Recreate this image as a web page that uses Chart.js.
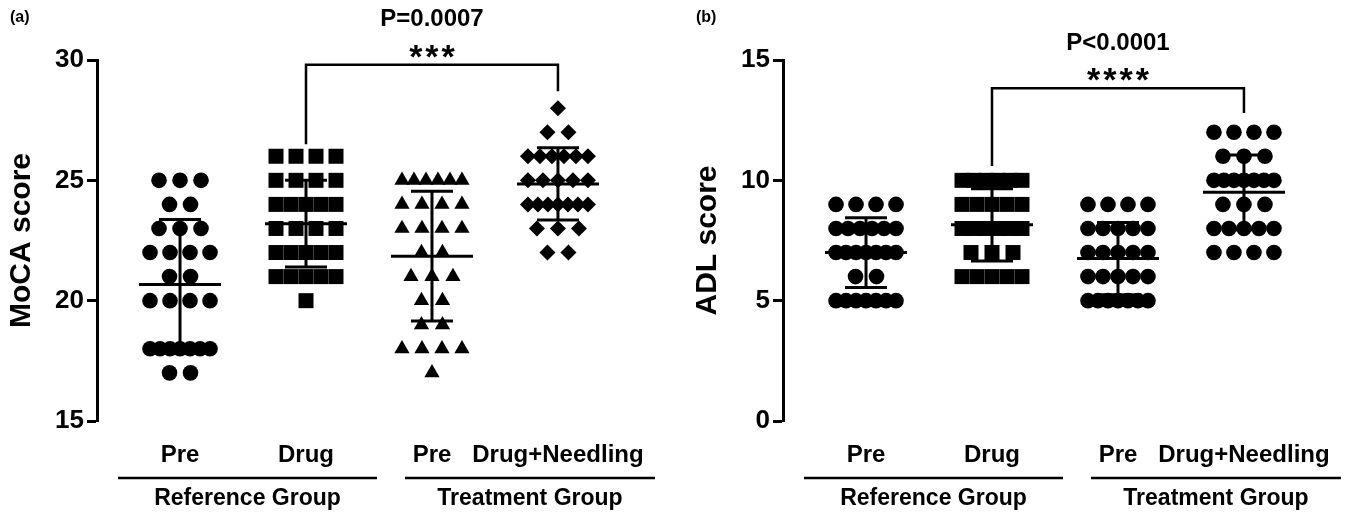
<!DOCTYPE html>
<html>
<head>
<meta charset="utf-8">
<script src="https://cdn.jsdelivr.net/npm/chart.js@4/dist/chart.umd.min.js"></script>
<style>
html, body { margin: 0; padding: 0; background: #fff; overflow: hidden; }
#wrap { position: relative; width: 1357px; height: 513px; }
.panel { position: absolute; top: 0; height: 513px; }
</style>
</head>
<body>
<div id="wrap">
    <div class="panel" style="left:0;width:680px"><canvas id="mocaChart"></canvas></div>
    <div class="panel" style="left:686px;width:671px"><canvas id="adlChart"></canvas></div>
</div>
<script>
const groups = ['Pre', 'Drug', 'Pre', 'Drug+Needling'];
const groupNames = ['Reference Group', 'Treatment Group'];
const mocaMarkers = ['circle', 'rect', 'triangle', 'rectRot'];
const adlMarkers = ['circle', 'rect', 'circle', 'circle'];

// (a) MoCA scores
const mocaPre = [25, 25, 25, 24, 24, 23, 23, 23, 22, 22, 22, 22, 21, 21, 20, 20, 20, 20, 18, 18, 18, 18, 18, 18, 18, 17, 17];
const mocaDrug = [26, 26, 26, 26, 25, 25, 25, 25, 24, 24, 24, 24, 24, 23, 23, 23, 23, 22, 22, 22, 22, 22, 21, 21, 21, 21, 21, 20];
const mocaTreatPre = [25, 25, 25, 25, 25, 25, 24, 24, 24, 24, 23, 23, 23, 23, 22, 22, 21, 21, 21, 20, 20, 19, 19, 18, 18, 18, 18, 17];
const mocaNeedling = [28, 27, 27, 26, 26, 26, 26, 26, 26, 25, 25, 25, 25, 25, 24, 24, 24, 24, 24, 24, 24, 23, 23, 23, 22, 22];
const mocaMean = [20.67, 23.2, 21.85, 24.85];
const mocaSD = [2.7, 1.8, 2.7, 1.5];
const mocaTicks = [15, 20, 25, 30];

// (b) ADL scores
const adlPre = [9, 9, 9, 9, 8, 8, 8, 8, 8, 8, 7, 7, 7, 7, 7, 7, 7, 6, 6, 5, 5, 5, 5, 5, 5, 5];
const adlDrug = [10, 10, 10, 10, 10, 10, 9, 9, 9, 9, 9, 8, 8, 8, 8, 8, 8, 7, 7, 7, 6, 6, 6, 6, 6];
const adlTreatPre = [9, 9, 9, 9, 8, 8, 8, 8, 8, 7, 7, 7, 7, 7, 6, 6, 6, 6, 6, 5, 5, 5, 5, 5, 5, 5];
const adlNeedling = [12, 12, 12, 12, 11, 11, 11, 10, 10, 10, 10, 10, 10, 10, 9, 9, 9, 8, 8, 8, 8, 8, 7, 7, 7, 7];
const adlMean = [7.0, 8.15, 6.75, 9.5];
const adlSD = [1.45, 1.5, 1.5, 1.55];
const adlTicks = [0, 5, 10, 15];

const FONT = '"Liberation Sans", Arial, sans-serif';
const PX_PER_UNIT = 126;
const RADIUS = { circle: 7.8, rect: 10.6, triangle: 8.8, rectRot: 8 };

// spread equal values sideways like a dot plot
function swarm(values, center) {
    const counts = {};
    values.forEach(v => counts[v] = (counts[v] || 0) + 1);
    const seen = {};
    return values.map(v => {
        const n = counts[v];
        seen[v] = (seen[v] === undefined ? -1 : seen[v]) + 1;
        const gap = n > 1 ? Math.min(21, 60 / (n - 1)) : 0;
        return { x: center + (seen[v] - (n - 1) / 2) * gap / PX_PER_UNIT, y: v };
    });
}

const overlay = {
    id: 'overlay',
    afterDatasetsDraw(chart, args, opts) {
        const { ctx, scales: { x, y }, chartArea } = chart;
        const seg = (x1, y1, x2, y2) => { ctx.beginPath(); ctx.moveTo(x1, y1); ctx.lineTo(x2, y2); ctx.stroke(); };
        ctx.save();
        ctx.strokeStyle = '#000';
        ctx.fillStyle = '#000';
        ctx.lineCap = 'butt';

        // mean and SD
        ctx.lineWidth = 3;
        opts.mean.forEach((m, i) => {
            const cx = x.getPixelForValue(i + 1);
            const ym = y.getPixelForValue(m);
            const yt = y.getPixelForValue(m + opts.sd[i]);
            const yb = y.getPixelForValue(m - opts.sd[i]);
            seg(cx - 41, ym, cx + 41, ym);
            seg(cx - 21, yt, cx + 21, yt);
            seg(cx - 21, yb, cx + 21, yb);
            seg(cx, yt, cx, yb);
        });

        // significance bracket
        const b = opts.bracket;
        const x1 = x.getPixelForValue(2), x2 = x.getPixelForValue(4);
        const yTop = y.getPixelForValue(b.top);
        ctx.lineWidth = 2.5;
        ctx.beginPath();
        ctx.moveTo(x1, y.getPixelForValue(b.left));
        ctx.lineTo(x1, yTop);
        ctx.lineTo(x2, yTop);
        ctx.lineTo(x2, y.getPixelForValue(b.right));
        ctx.stroke();
        ctx.textAlign = 'center';
        ctx.textBaseline = 'alphabetic';
        ctx.font = 'bold 34px ' + FONT;
        ctx.letterSpacing = '3px';
        ctx.fillText(b.stars, (x1 + x2) / 2 + 1.5, yTop + 3);
        ctx.letterSpacing = '0px';
        ctx.textBaseline = 'middle';
        ctx.font = 'bold 24px ' + FONT;
        ctx.fillText(b.p, (x1 + x2) / 2, yTop - 45);

        // category labels and group underlines
        const base = chartArea.bottom;
        ctx.font = 'bold 24px ' + FONT;
        groups.forEach((g, i) => ctx.fillText(g, x.getPixelForValue(i + 1), base + 34));
        ctx.lineWidth = 2.5;
        const c1 = x.getPixelForValue(1), c2 = x.getPixelForValue(2);
        const c3 = x.getPixelForValue(3), c4 = x.getPixelForValue(4);
        seg(c1 - 62, base + 57, c2 + 71, base + 57);
        seg(c3 - 27, base + 57, c4 + 97, base + 57);
        ctx.font = 'bold 23px ' + FONT;
        ctx.fillText(groupNames[0], (c1 - 62 + c2 + 71) / 2, base + 78);
        ctx.fillText(groupNames[1], (c3 - 27 + c4 + 97) / 2, base + 78);

        // panel letter
        ctx.textAlign = 'left';
        ctx.font = 'bold 16px ' + FONT;
        ctx.fillText(opts.letter, 10, 18);
        ctx.restore();
    }
};

function makeChart(id, series, markers, mean, sd, ticks, title, bracket, letter, padRight) {
    const datasets = series.map((vals, i) => ({
        data: swarm(vals, i + 1),
        pointStyle: markers[i],
        pointRadius: RADIUS[markers[i]],
        backgroundColor: '#000',
        borderWidth: 0,
        clip: false
    }));
    return new Chart(document.getElementById(id), {
        type: 'scatter',
        data: { datasets },
        options: {
            responsive: true,
            maintainAspectRatio: false,
            animation: false,
            layout: { padding: { top: 60, bottom: 92, left: 0, right: padRight } },
            plugins: {
                legend: { display: false },
                tooltip: { enabled: false },
                overlay: { mean, sd, bracket, letter }
            },
            scales: {
                x: { type: 'linear', display: false, min: 0.341, max: 4.81 },
                y: {
                    min: ticks[0],
                    max: ticks[ticks.length - 1],
                    afterBuildTicks: s => { s.ticks = ticks.map(v => ({ value: v })); },
                    afterFit: s => { s.width = 97; },
                    border: { display: true, color: '#000', width: 3 },
                    grid: { drawOnChartArea: false, drawTicks: true, tickLength: 10, tickWidth: 3, tickColor: '#000' },
                    ticks: { color: '#000', padding: 3, font: { family: FONT, size: 26, weight: 'bold' } },
                    title: {
                        display: true, text: title, color: '#000',
                        padding: { top: 4, bottom: 0 },
                        font: { family: FONT, size: 30, weight: 'bold' }
                    }
                }
            }
        },
        plugins: [overlay]
    });
}

makeChart('mocaChart', [mocaPre, mocaDrug, mocaTreatPre, mocaNeedling], mocaMarkers, mocaMean, mocaSD, mocaTicks,
    'MoCA score', { top: 29.8, left: 26.5, right: 28.7, stars: '***', p: 'P=0.0007' }, '(a)', 20);
makeChart('adlChart', [adlPre, adlDrug, adlTreatPre, adlNeedling], adlMarkers, adlMean, adlSD, adlTicks,
    'ADL score', { top: 13.83, left: 10.6, right: 12.8, stars: '****', p: 'P<0.0001' }, '(b)', 11);
</script>
</body>
</html>
